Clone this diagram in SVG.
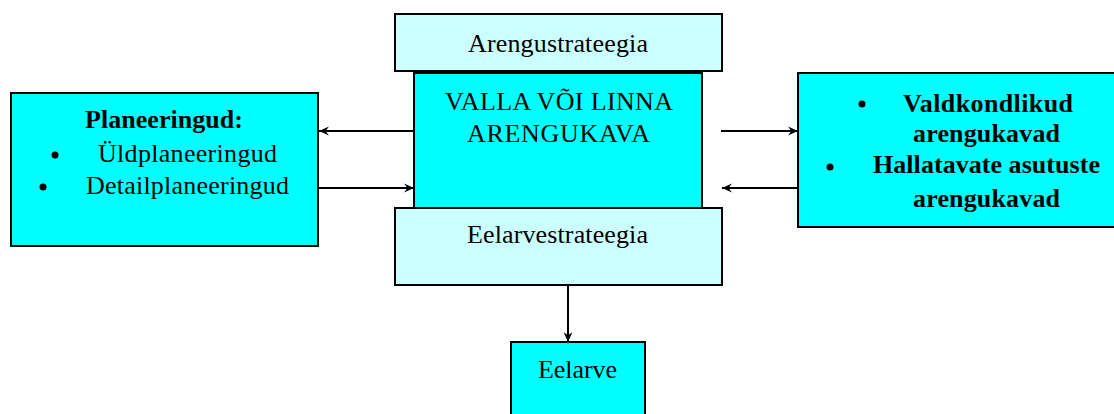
<svg xmlns="http://www.w3.org/2000/svg" width="1114" height="414" viewBox="0 0 1114 414">
<style>
.box{stroke:#000;stroke-width:2}
.c{fill:#00FFFF}
.l{fill:#CCFFFF}
text{font-family:"Liberation Serif","Times New Roman",serif;font-size:26px;fill:#000}
.b{font-weight:bold}
.con{stroke:#000;stroke-width:2;fill:none;marker-end:url(#ah)}
</style>
<defs>
<marker id="ah" markerWidth="12" markerHeight="12" refX="10" refY="6" orient="auto" markerUnits="userSpaceOnUse">
<path d="M0,1.5 L10,6 L0,10.5 L3.5,6 Z" fill="#000"/>
</marker>
</defs>
<rect width="1114" height="414" fill="#fff"/>
<g id="connectors">
<line class="con" x1="414" y1="131" x2="319" y2="131"/>
<line class="con" x1="318" y1="188" x2="414" y2="188"/>
<line class="con" x1="721" y1="131" x2="798" y2="131"/>
<line class="con" x1="798" y1="188" x2="722" y2="188"/>
<line class="con" x1="568" y1="285" x2="568" y2="342"/>
</g>
<g id="planeeringud">
<rect class="box c" x="11" y="93" width="307" height="153"/>
<text class="b" x="85" y="128" textLength="158">Planeeringud:</text>
<circle cx="55" cy="155" r="3.5"/>
<text x="98" y="162" textLength="179">Üldplaneeringud</text>
<circle cx="43" cy="187" r="3.5"/>
<text x="86" y="194" textLength="203">Detailplaneeringud</text>
</g>
<g id="arengustrateegia">
<rect class="box l" x="395" y="14" width="327" height="57"/>
<text x="468" y="52" textLength="180">Arengustrateegia</text>
</g>
<g id="arengukava">
<rect class="box c" x="414" y="73" width="288" height="135"/>
<text x="445" y="110" textLength="228">VALLA VÕI LINNA</text>
<text x="467" y="142" textLength="183">ARENGUKAVA</text>
</g>
<g id="eelarvestrateegia">
<rect class="box l" x="395" y="208" width="327" height="77"/>
<text x="467" y="243" textLength="181">Eelarvestrateegia</text>
</g>
<g id="eelarve">
<rect class="box c" x="511" y="342" width="134" height="80"/>
<text x="538" y="378" textLength="79">Eelarve</text>
</g>
<g id="arengukavad">
<rect class="box c" x="798" y="73" width="320" height="154"/>
<circle cx="862" cy="104" r="3.5"/>
<text class="b" x="903" y="112" textLength="170">Valdkondlikud</text>
<text class="b" x="913" y="142" textLength="147">arengukavad</text>
<circle cx="830" cy="167" r="3.5"/>
<text class="b" x="873" y="173" textLength="227">Hallatavate asutuste</text>
<text class="b" x="913" y="207" textLength="147">arengukavad</text>
</g>
</svg>
